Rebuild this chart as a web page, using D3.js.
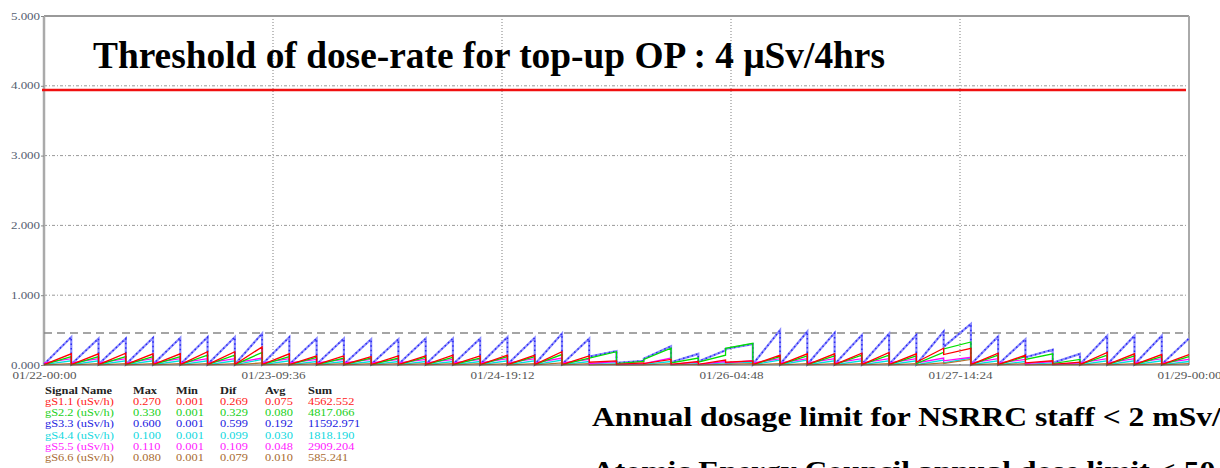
<!DOCTYPE html>
<html>
<head>
<meta charset="utf-8">
<script src="https://cdn.jsdelivr.net/npm/d3@7/dist/d3.min.js"></script>
<style>
body { margin: 0; background: #fff; }
svg { display: block; }
</style>
</head>
<body>
<script>
// top-up cycles: start hour of each 4 h cycle, counted from 01/22-00:00
const cycleHours = [0,4,8,12,16,20,24,28,32,36,40,44,48,52,56,60,64,68,72,76,
  80,84,88,92,96,100,104,108,112,116,120,124,128,132,136,140,144,148,152,156,160,164];
const cycleLength = 4;

// value at the start and at the end (peak) of each cycle, uSv/h
const blueStart = [0.01,0.01,0.01,0.01,0.01,0.01,0.01,0.01,0.01,0.01,
  0.01,0.01,0.01,0.01,0.01,0.01,0.01,0.01,0.01,0.01,
  0.12,0.03,0.09,0.04,0.05,0.23,0.01,0.01,0.01,0.01,
  0.01,0.01,0.01,0.26,0.01,0.01,0.11,0.03,0.01,0.01,0.01,0.01];
const bluePeak = [0.40,0.38,0.38,0.39,0.39,0.40,0.40,0.45,0.40,0.38,
  0.38,0.37,0.37,0.38,0.38,0.38,0.40,0.39,0.45,0.38,
  0.20,0.06,0.27,0.16,0.21,0.30,0.50,0.48,0.46,0.43,
  0.45,0.43,0.48,0.59,0.41,0.37,0.22,0.16,0.42,0.42,0.42,0.38];

const redStart = [0.005,0.005,0.005,0.005,0.005,0.005,0.005,0.005,0.005,0.005,
  0.005,0.005,0.005,0.005,0.005,0.005,0.005,0.005,0.005,0.005,
  0.04,0.01,0.02,0.01,0.01,0.04,0.005,0.005,0.005,0.005,
  0.005,0.005,0.04,0.15,0.005,0.005,0.03,0.01,0.005,0.005,0.005,0.005];
const redPeak = [0.16,0.16,0.17,0.16,0.16,0.19,0.19,0.26,0.16,0.13,
  0.13,0.12,0.13,0.13,0.14,0.13,0.14,0.14,0.19,0.13,
  0.06,0.03,0.08,0.05,0.07,0.06,0.14,0.16,0.16,0.17,
  0.18,0.16,0.24,0.24,0.17,0.14,0.06,0.04,0.18,0.16,0.15,0.15];

const greenStart = [0.005,0.005,0.005,0.005,0.005,0.005,0.005,0.005,0.005,0.005,
  0.005,0.005,0.005,0.005,0.005,0.005,0.005,0.005,0.005,0.005,
  0.10,0.02,0.08,0.03,0.04,0.24,0.005,0.005,0.005,0.005,
  0.005,0.005,0.02,0.23,0.005,0.005,0.08,0.02,0.005,0.005,0.005,0.005];
const greenPeak = [0.12,0.12,0.12,0.12,0.12,0.14,0.14,0.18,0.12,0.11,
  0.10,0.10,0.10,0.11,0.11,0.10,0.12,0.12,0.15,0.10,
  0.19,0.05,0.24,0.10,0.14,0.31,0.12,0.13,0.13,0.14,
  0.14,0.13,0.18,0.33,0.14,0.12,0.16,0.08,0.14,0.13,0.12,0.12];

const magentaStart = [0.03,0.03,0.03,0.03,0.03,0.03,0.03,0.03,0.03,0.03,
  0.03,0.03,0.03,0.03,0.03,0.03,0.03,0.03,0.03,0.03,
  0.02,0.01,0.02,0.01,0.01,0.03,0.03,0.03,0.03,0.03,
  0.03,0.03,0.03,0.06,0.03,0.03,0.02,0.01,0.03,0.03,0.03,0.03];
const magentaPeak = [0.09,0.09,0.09,0.09,0.09,0.09,0.09,0.10,0.09,0.08,
  0.08,0.08,0.08,0.08,0.08,0.08,0.09,0.09,0.10,0.08,
  0.05,0.02,0.10,0.04,0.05,0.06,0.09,0.09,0.09,0.09,
  0.09,0.09,0.10,0.11,0.09,0.08,0.05,0.03,0.09,0.09,0.09,0.08];

const cyanStart = [0.005,0.005,0.005,0.005,0.005,0.005,0.005,0.005,0.005,0.005,
  0.005,0.005,0.005,0.005,0.005,0.005,0.005,0.005,0.005,0.005,
  0.02,0.005,0.01,0.005,0.005,0.02,0.005,0.005,0.005,0.005,
  0.005,0.005,0.005,0.03,0.005,0.005,0.01,0.005,0.005,0.005,0.005,0.005];
const cyanPeak = [0.06,0.06,0.06,0.06,0.06,0.06,0.06,0.08,0.06,0.05,
  0.05,0.05,0.05,0.05,0.05,0.05,0.06,0.06,0.07,0.05,
  0.03,0.01,0.05,0.02,0.03,0.04,0.07,0.07,0.06,0.06,
  0.06,0.06,0.07,0.10,0.06,0.05,0.03,0.02,0.06,0.06,0.06,0.05];

const brownStart = [0.002,0.002,0.002,0.002,0.002,0.002,0.002,0.002,0.002,0.002,
  0.002,0.002,0.002,0.002,0.002,0.002,0.002,0.002,0.002,0.002,
  0.002,0.002,0.002,0.002,0.002,0.01,0.002,0.002,0.002,0.002,
  0.002,0.002,0.002,0.02,0.002,0.002,0.002,0.002,0.002,0.002,0.002,0.002];
const brownPeak = [0.02,0.02,0.02,0.02,0.02,0.02,0.02,0.03,0.02,0.02,
  0.02,0.02,0.02,0.02,0.02,0.02,0.02,0.02,0.03,0.02,
  0.01,0.005,0.02,0.01,0.01,0.02,0.02,0.02,0.02,0.02,
  0.02,0.02,0.03,0.08,0.02,0.02,0.01,0.01,0.02,0.02,0.02,0.02];

// axis ticks
const yTicks = [0, 1, 2, 3, 4, 5];
const xTickHours = [0, 33.6, 67.2, 100.8, 134.4, 168];
const xTickLabels = ["01/22-00:00", "01/23-09:36", "01/24-19:12", "01/26-04:48", "01/27-14:24", "01/29-00:00"];

const thresholdValue = 3.94;   // top-up threshold line
const warnValue = 0.46;        // dashed reference line

// legend table
const signalNames = ["gS1.1 (uSv/h)", "gS2.2 (uSv/h)", "gS3.3 (uSv/h)", "gS4.4 (uSv/h)", "gS5.5 (uSv/h)", "gS6.6 (uSv/h)"];
const maxVals = ["0.270", "0.330", "0.600", "0.100", "0.110", "0.080"];
const minVals = ["0.001", "0.001", "0.001", "0.001", "0.001", "0.001"];
const difVals = ["0.269", "0.329", "0.599", "0.099", "0.109", "0.079"];
const avgVals = ["0.075", "0.080", "0.192", "0.030", "0.048", "0.010"];
const sumVals = ["4562.552", "4817.066", "11592.971", "1818.190", "2909.204", "585.241"];
const legendHeader = ["Signal Name", "Max", "Min", "Dif", "Avg", "Sum"];

const seriesColors = ["#ff0000", "#00e000", "#3030ff", "#00e0e0", "#ff00ff", "#b8732e"];
const legendColors = ["#ff2020", "#20d020", "#2020e0", "#10d8e0", "#ff20ff", "#a86a30"];

const W = 1220, H = 468;
const mLeft = 44, mRight = 1189, mTop = 16, mBottom = 365;

const svg = d3.select("body").append("svg")
    .attr("width", W).attr("height", H)
    .style("font-family", "'Liberation Serif', 'Times New Roman', serif");

svg.append("rect").attr("width", W).attr("height", H).attr("fill", "#fff");

const x = d3.scaleLinear().domain([0, 168]).range([mLeft, mRight]);
const y = d3.scaleLinear().domain([0, 5]).range([mBottom, mTop]);

// horizontal grid
svg.append("g").selectAll("line")
  .data([1, 2, 3, 4])
  .join("line")
    .attr("x1", mLeft).attr("x2", mRight)
    .attr("y1", d => y(d)).attr("y2", d => y(d))
    .attr("stroke", "#999")
    .attr("stroke-width", 1)
    .attr("stroke-dasharray", "3,2,1,2");

// vertical grid
svg.append("g").selectAll("line")
  .data(xTickHours.slice(1, -1))
  .join("line")
    .attr("x1", d => x(d)).attr("x2", d => x(d))
    .attr("y1", mTop).attr("y2", mBottom)
    .attr("stroke", "#aaa")
    .attr("stroke-width", 1.5)
    .attr("stroke-dasharray", "1,2");

// frame
svg.append("line").attr("x1", mLeft).attr("x2", mRight).attr("y1", y(5)).attr("y2", y(5))
    .attr("stroke", "#999").attr("stroke-width", 2);
svg.append("line").attr("x1", mRight).attr("x2", mRight).attr("y1", mTop).attr("y2", mBottom)
    .attr("stroke", "#aaa").attr("stroke-width", 2);
svg.append("line").attr("x1", mLeft).attr("x2", mLeft).attr("y1", mTop).attr("y2", mBottom)
    .attr("stroke", "#aaa").attr("stroke-width", 2.5);

// dashed reference line
svg.append("line")
    .attr("x1", mLeft).attr("x2", mRight)
    .attr("y1", y(warnValue)).attr("y2", y(warnValue))
    .attr("stroke", "#888").attr("stroke-width", 1.5)
    .attr("stroke-dasharray", "8,5");

// build saw-tooth points from start/peak per cycle
function sawPoints(starts, peaks) {
  const pts = [];
  cycleHours.forEach(function(h, i) {
    pts.push([h, starts[i]]);
    pts.push([h + cycleLength, peaks[i]]);
  });
  return pts;
}

const line = d3.line().x(d => x(d[0])).y(d => y(d[1]));

const bluePts = sawPoints(blueStart, bluePeak);
const series = [
  { pts: sawPoints(cyanStart, cyanPeak), color: seriesColors[3], w: 1.3 },
  { pts: sawPoints(brownStart, brownPeak), color: seriesColors[5], w: 1.3 },
  { pts: sawPoints(magentaStart, magentaPeak), color: seriesColors[4], w: 1.3 },
  { pts: sawPoints(greenStart, greenPeak), color: seriesColors[1], w: 1.3 },
  { pts: sawPoints(redStart, redPeak), color: seriesColors[0], w: 1.3 }
];

const gData = svg.append("g");
// blue drawn as light line + darker sample dots
gData.append("path")
    .attr("d", line(bluePts))
    .attr("fill", "none")
    .attr("stroke", "#8c8cff")
    .attr("stroke-width", 2.2);
gData.append("path")
    .attr("d", line(bluePts))
    .attr("fill", "none")
    .attr("stroke", "#2a2af0")
    .attr("stroke-width", 1.5)
    .attr("stroke-dasharray", "1.5,3");
series.forEach(function(s) {
  gData.append("path")
      .attr("d", line(s.pts))
      .attr("fill", "none")
      .attr("stroke", s.color)
      .attr("stroke-width", s.w);
});

// bottom axis line
svg.append("line").attr("x1", mLeft).attr("x2", mRight).attr("y1", mBottom).attr("y2", mBottom)
    .attr("stroke", "#555").attr("stroke-width", 1.2);

// threshold line
svg.append("line")
    .attr("x1", mLeft - 2).attr("x2", mRight - 3)
    .attr("y1", y(thresholdValue)).attr("y2", y(thresholdValue))
    .attr("stroke", "#f01010").attr("stroke-width", 2.5);

// y axis labels
const yAxis = svg.append("g")
    .attr("transform", "translate(" + mLeft + ",0)")
    .call(d3.axisLeft(y).tickValues(yTicks).tickFormat(d3.format(".3f")).tickSize(3));
yAxis.select(".domain").remove();
yAxis.selectAll("line").attr("stroke", "#888");
yAxis.selectAll("text")
    .attr("x", -3)
    .attr("dy", "0.3em")
    .attr("transform", "scale(1.3,1)")
    .attr("fill", "#556070")
    .style("font-family", "'Liberation Serif', serif")
    .style("font-size", "10px");

// x axis labels
const xAxis = svg.append("g")
    .attr("transform", "translate(0," + mBottom + ")")
    .call(d3.axisBottom(x).tickValues(xTickHours)
      .tickFormat((d, i) => xTickLabels[i]).tickSize(0));
xAxis.select(".domain").remove();
xAxis.selectAll("text")
    .attr("dy", "1.05em")
    .attr("transform", "scale(1.25,1)")
    .attr("fill", "#555")
    .style("font-family", "'Liberation Serif', serif")
    .style("font-size", "10.5px");

// legend table
const legendCols = [45, 133, 176, 220, 265, 308];
const legendRowY = [394, 405, 416, 427, 439, 450, 461];
const gLeg = svg.append("g").style("font-size", "10.5px");
function legText(t, j, r, color, bold) {
  gLeg.append("text")
      .attr("transform", "translate(" + legendCols[j] + "," + legendRowY[r] + ") scale(1.18,1)")
      .attr("fill", color)
      .style("font-weight", bold ? "bold" : "normal")
      .text(t);
}
legendHeader.forEach(function(t, j) { legText(t, j, 0, "#222", true); });
signalNames.forEach(function(name, i) {
  const row = [name, maxVals[i], minVals[i], difVals[i], avgVals[i], sumVals[i]];
  row.forEach(function(t, j) { legText(t, j, i + 1, legendColors[i], false); });
});

// annotations
svg.append("text")
    .attr("x", 93).attr("y", 68)
    .attr("textLength", 792).attr("lengthAdjust", "spacingAndGlyphs")
    .style("font-size", "37px").style("font-weight", "bold")
    .attr("fill", "#000")
    .text("Threshold of dose-rate for top-up OP : 4 \u03bcSv/4hrs");

svg.append("text")
    .attr("transform", "translate(592,426) scale(1.13,1)")
    .style("font-size", "28px").style("font-weight", "bold")
    .attr("fill", "#000")
    .text("Annual dosage limit for NSRRC staff < 2 mSv/yr");

svg.append("text")
    .attr("transform", "translate(592,480) scale(1.13,1)")
    .style("font-size", "28px").style("font-weight", "bold")
    .attr("fill", "#000")
    .text("Atomic Energy Council annual dose limit < 50 mSv/yr");
</script>
</body>
</html>
